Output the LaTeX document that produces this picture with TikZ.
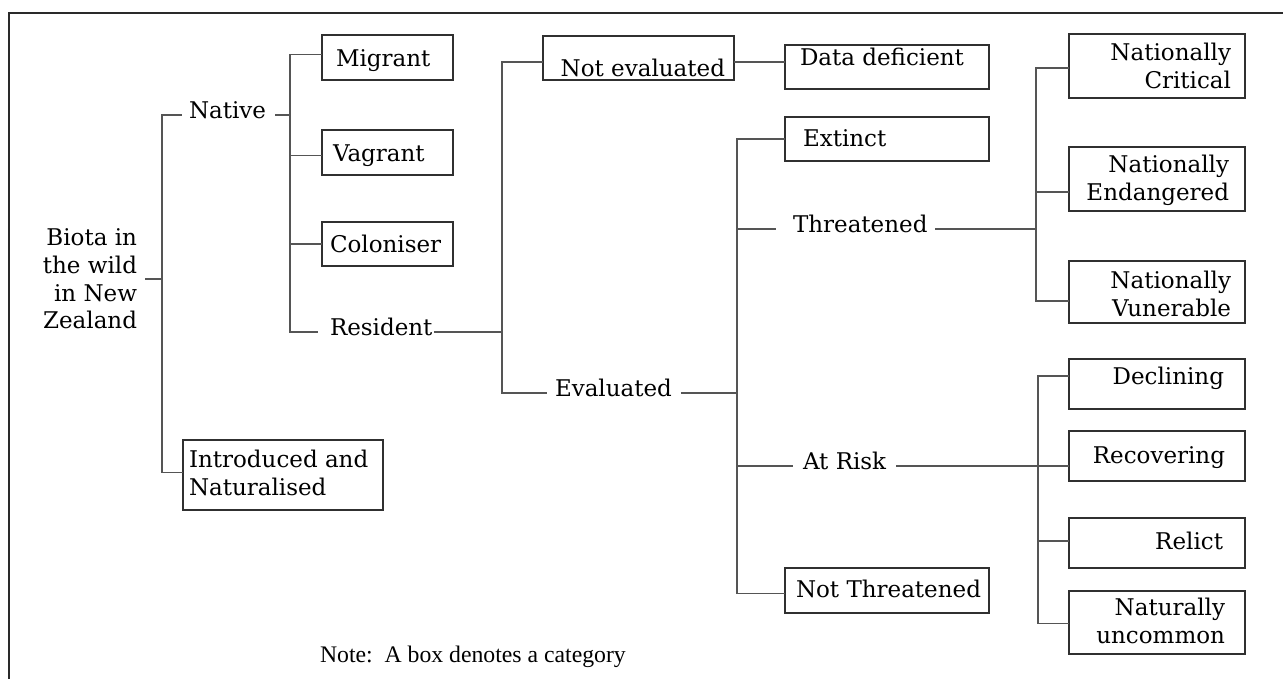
\documentclass[tikz,border=0pt]{standalone}
\usepackage{fontspec}
\setmainfont{DejaVu Serif}
\newfontfamily\notefont{Liberation Serif}
\usetikzlibrary{fit,calc}
\definecolor{boxgrey}{HTML}{303030}
\definecolor{linkgrey}{HTML}{555555}
\definecolor{framegrey}{HTML}{2A2A2A}
\begin{document}
\begin{tikzpicture}[x=0.75pt,y=-0.75pt,
  every node/.style={inner sep=0pt, outer sep=0pt,
    font=\fontsize{17.25}{20.8}\selectfont},
  catbox/.style={draw=boxgrey, line width=0.95pt, fit={#1}, inner sep=0pt},
  link/.style={draw=linkgrey, line width=0.9pt},
  lbl/.style={anchor=mid west},
  % base anchors of multi-line texts sit on the last line
  txtl/.style={anchor=base west, align=left},
  txtr/.style={anchor=base east, align=right},
  frame/.style={draw=framegrey, line width=1.2pt}]
\useasboundingbox (0,0) rectangle (1283,679);

% outer frame (open to the right and bottom)
\draw[frame] (9,679) -- (9,13) -- (1283,13);

% ---------- root ----------
\node[align=right, anchor=east] (biota) at (137,279) {Biota in\\the wild\\in New\\Zealand};

% ---------- plain labels ----------
\node[lbl] (native)     at (189,115) {Native};
\node[lbl] (resident)   at (330,332) {Resident};
\node[lbl] (evaluated)  at (555,393) {Evaluated};
\node[lbl] (threatened) at (793,229) {Threatened};
\node[lbl] (atrisk)     at (803,466) {At Risk};

% ---------- category boxes ----------
\node[catbox={(322,35)(453,80)}]    (migrant) {};
\node[txtl] (migrant-t) at (336,66) {Migrant};
\node[catbox={(322,130)(453,175)}]  (vagrant) {};
\node[txtl] (vagrant-t) at (333,161) {Vagrant};
\node[catbox={(322,222)(453,266)}]  (colon) {};
\node[txtl] (colon-t) at (330,252) {Coloniser};
\node[catbox={(183,440)(383,510)}]  (intro) {};
\node[txtl] (intro-t) at (189,495) {Introduced and\\Naturalised};

\node[catbox={(543,36)(734,80)}]    (noteval) {};
\node[txtr] (noteval-t) at (725,76) {Not evaluated};
\node[catbox={(785,45)(989,89)}]    (datadef) {};
\node[txtl] (datadef-t) at (800,65) {Data deficient};
\node[catbox={(785,117)(989,161)}]  (extinct) {};
\node[txtl] (extinct-t) at (803,146) {Extinct};
\node[catbox={(785,568)(989,613)}]  (notthr) {};
\node[txtl] (notthr-t) at (796,597) {Not Threatened};

\node[catbox={(1069,34)(1245,98)}]   (nc) {};
\node[txtr] (nc-t) at (1231,88) {Nationally\\Critical};
\node[catbox={(1069,147)(1245,211)}] (ne) {};
\node[txtr] (ne-t) at (1229,200) {Nationally\\Endangered};
\node[catbox={(1069,261)(1245,323)}] (nv) {};
\node[txtr] (nv-t) at (1231,316) {Nationally\\Vunerable};

\node[catbox={(1069,359)(1245,409)}] (declin) {};
\node[txtr] (declin-t) at (1224,384) {Declining};
\node[catbox={(1069,431)(1245,481)}] (recov) {};
\node[txtr] (recov-t) at (1225,463) {Recovering};
\node[catbox={(1069,518)(1245,568)}] (relict) {};
\node[txtr] (relict-t) at (1223,549) {Relict};
\node[catbox={(1069,591)(1245,654)}] (natunc) {};
\node[txtr] (natunc-t) at (1225,643) {Naturally\\uncommon};

% ---------- note ----------
\node[anchor=base west, font=\notefont\fontsize{17.8}{20}\selectfont] (note)
  at (320,662) {Note:\ \ A box denotes a category};

% ---------- spine junctions ----------
\coordinate (jA) at (162,279);
\coordinate (jB) at (290,115);
\coordinate (jC) at (502,332);
\coordinate (jD) at (737,393);
\coordinate (jE) at (1036,229);
\coordinate (jF) at (1038,466);

% root -> Native / Introduced
\draw[link] ([xshift=6pt]biota.east) -- (jA);
\draw[link] (jA) |- ([xshift=-5pt]native.mid west);
\draw[link] (jA) |- ([yshift=2pt]intro.west);

% Native -> Migrant, Vagrant, Coloniser, Resident
\draw[link] ([xshift=7pt]native.mid east) -- (jB);
\draw[link] (jB) |- ([yshift=2pt]migrant.west);
\draw[link] (jB) |- ([yshift=-2pt]vagrant.west);
\draw[link] (jB) |- (colon.west);
\draw[link] (jB) |- ([xshift=-9pt]resident.mid west);

% Resident -> Not evaluated / Evaluated
\draw[link] ([xshift=1pt]resident.mid east) -- (jC);
\draw[link] (jC) |- ([yshift=-3pt]noteval.west);
\draw[link] (jC) |- ([xshift=-6pt]evaluated.mid west);
\draw[link] ([yshift=-3pt]noteval.east) -- ([yshift=3.75pt]datadef.west);

% Evaluated -> Extinct, Threatened, At Risk, Not Threatened
\draw[link] ([xshift=6.75pt]evaluated.mid east) -- (jD);
\draw[link] (jD) |- (extinct.west);
\draw[link] (jD) |- ([xshift=-12.75pt]threatened.mid west);
\draw[link] (jD) |- ([xshift=-7.5pt]atrisk.mid west);
\draw[link] (jD) |- ([yshift=-2pt]notthr.west);

% Threatened -> Nationally ...
\draw[link] ([xshift=6pt]threatened.mid east) -- (jE);
\draw[link] (jE) |- ([yshift=-1.5pt]nc.west);
\draw[link] (jE) |- ([yshift=-9.75pt]ne.west);
\draw[link] (jE) |- ([yshift=-6.75pt]nv.west);

% At Risk -> Declining, Recovering, Relict, Naturally uncommon
\draw[link] ([xshift=7.5pt]atrisk.mid east) -- ([yshift=-7.5pt]recov.west);
\draw[link] (jF) |- ([yshift=6pt]declin.west);
\draw[link] (jF) |- ([yshift=1.5pt]relict.west);
\draw[link] (jF) |- ([yshift=-1pt]natunc.west);
\end{tikzpicture}
\end{document}
